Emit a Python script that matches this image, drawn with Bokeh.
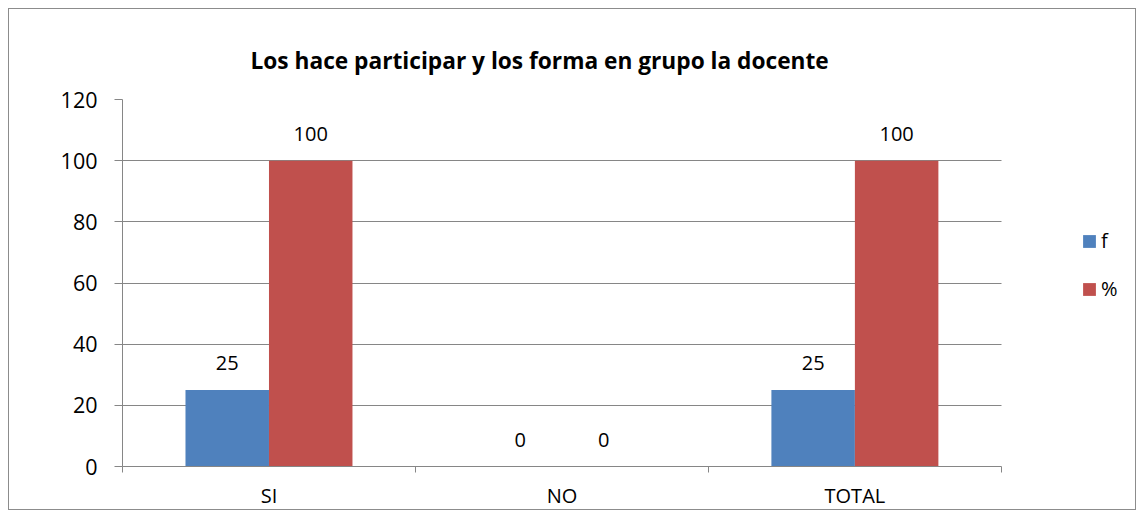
from bokeh.plotting import figure
from bokeh.models import (FixedTicker, Range1d, Legend, LegendItem, ColumnDataSource, Title)
from bokeh.embed import file_html
from bokeh.resources import INLINE
from bokeh.core.properties import value

categories = ["SI", "NO", "TOTAL"]
f_values = [25, 0, 25]
pct_values = [100, 0, 100]
y_ticks = [0, 20, 40, 60, 80, 100, 120]
title_text = "Los hace participar y los forma en grupo la docente"

BLUE = "#4F81BD"
RED = "#C0504D"
GRID = "#868686"
FONT = "Open Sans"

n = len(categories)
idx = list(range(n))
bar_w = 0.285

# layout: category area is 878px wide, frame extends 130px further right for the legend
cat_px = 878
extra_px = 130
x_end = n * (cat_px + extra_px) / cat_px

src_f = ColumnDataSource(dict(x=[i + 0.5 - bar_w / 2 for i in idx], y=f_values,
                              lbl=[str(v) for v in f_values]))
src_p = ColumnDataSource(dict(x=[i + 0.5 + bar_w / 2 for i in idx], y=pct_values,
                              lbl=[str(v) for v in pct_values]))

p = figure(width=1128, height=502, output_backend="svg", toolbar_location=None,
           x_range=Range1d(0, x_end), y_range=Range1d(0, 120),
           min_border_left=113, min_border_right=6, min_border_top=90,
           min_border_bottom=44)
p.styles = {"border": "1px solid #8c8c8c", "margin-left": "8px", "margin-top": "8px"}
p.outline_line_color = None
p.background_fill_color = "white"
p.border_fill_color = "white"

t = Title(text=title_text, align="left", text_font=FONT, text_font_size="22.7px",
          text_font_style="bold", text_color="black", offset=128, standoff=48)
p.add_layout(t, "above")

rf = p.vbar(x="x", top="y", width=bar_w, source=src_f, fill_color=BLUE, line_color=None)
rp = p.vbar(x="x", top="y", width=bar_w, source=src_p, fill_color=RED, line_color=None)

for src in (src_f, src_p):
    p.text(x="x", y="y", text="lbl", source=src, text_align="center", text_baseline="bottom",
           y_offset=-20, text_font=value(FONT), text_font_size="20px", text_color="black")

# y axis
p.yaxis.ticker = FixedTicker(ticks=y_ticks)
p.yaxis.axis_line_color = GRID
p.yaxis.major_tick_line_color = GRID
p.yaxis.major_tick_out = 8
p.yaxis.major_tick_in = 0
p.yaxis.minor_tick_line_color = None
p.yaxis.major_label_standoff = 17
p.yaxis.major_label_text_font = FONT
p.yaxis.major_label_text_font_size = "21.5px"
p.yaxis.major_label_text_color = "black"

# x axis: labels at centers, ticks at boundaries
p.xaxis.ticker = FixedTicker(ticks=[i + 0.5 for i in idx], minor_ticks=list(range(n + 1)))
p.xaxis.major_label_overrides = {i + 0.5: c for i, c in zip(idx, categories)}
p.xaxis.bounds = (0, n)
p.xaxis.axis_line_color = GRID
p.xaxis.major_tick_line_color = None
p.xaxis.minor_tick_line_color = GRID
p.xaxis.minor_tick_out = 6
p.xaxis.minor_tick_in = 0
p.xaxis.major_label_standoff = 9
p.xaxis.major_label_text_font = FONT
p.xaxis.major_label_text_font_size = "20px"
p.xaxis.major_label_text_color = "black"

p.xgrid.grid_line_color = None
p.ygrid.ticker = FixedTicker(ticks=y_ticks)
p.ygrid.cross_bounds = (0, n)
p.ygrid.grid_line_color = GRID
p.ygrid.grid_line_width = 1

legend = Legend(items=[LegendItem(label="f", renderers=[rf]), LegendItem(label="%", renderers=[rp])],
                location=(959, 164), border_line_color=None, background_fill_alpha=0,
                padding=0, margin=0, spacing=21, glyph_width=16, glyph_height=16,
                label_height=20, label_standoff=4,
                label_text_font=FONT, label_text_font_size="20px", label_text_color="black")
p.add_layout(legend, "center")

open("out.html", "w").write(file_html(p, INLINE))
